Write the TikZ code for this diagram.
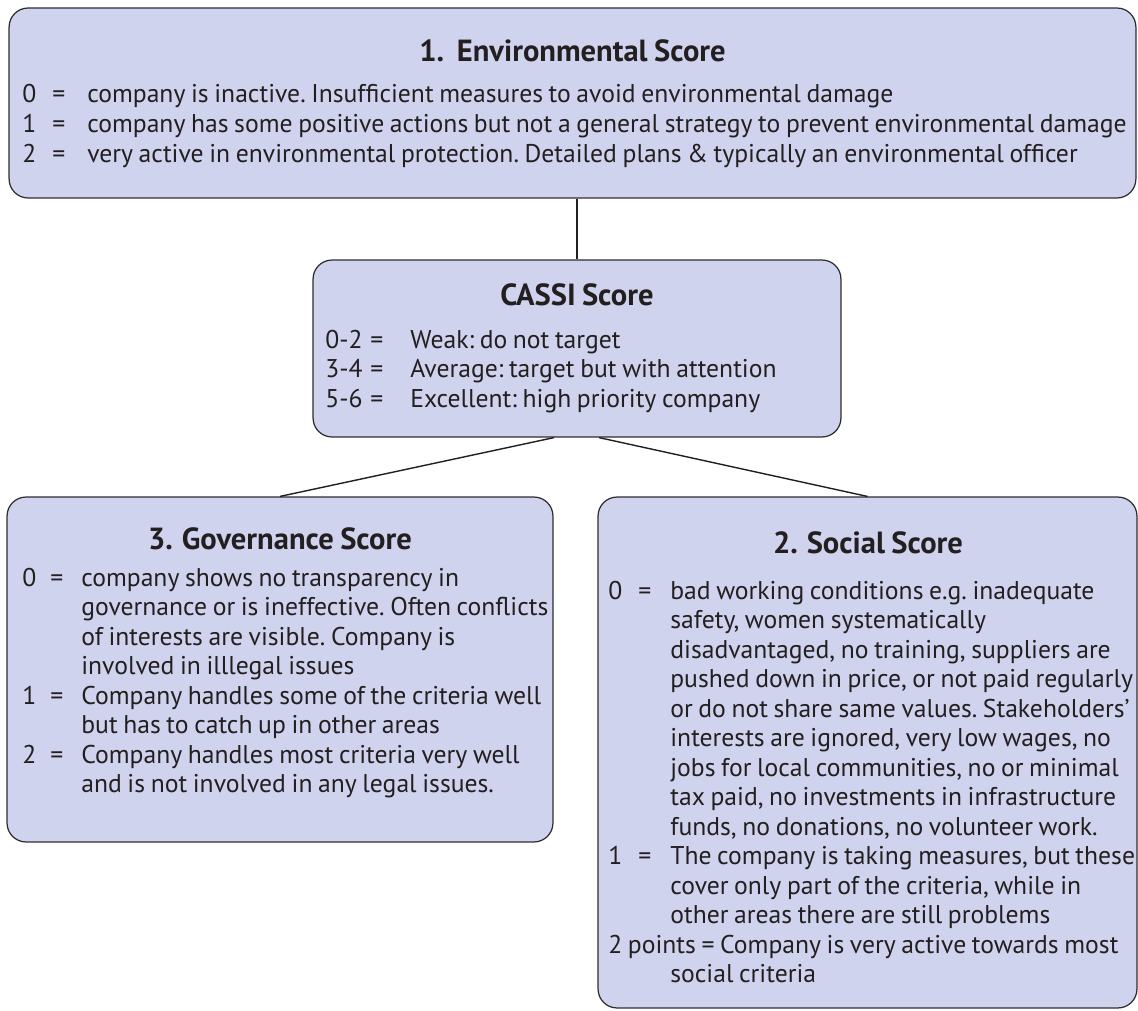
\documentclass[tikz,border=0pt]{standalone}
\usepackage{fontspec}
\setmainfont{PT Sans}[WordSpace=0.82]
\usepackage{array}
\usepackage{tikz}

\definecolor{boxfill}{RGB}{207,211,237}
\definecolor{boxline}{RGB}{45,45,48}
\definecolor{ink}{RGB}{35,31,32}

\tikzset{
    scorebox/.style={draw=boxline, fill=boxfill, line width=0.7pt, rounded corners=0.38cm, inner sep=0pt},
    boxtitle/.style={font=\fontsize{17.4}{20}\selectfont\bfseries, text=ink, inner sep=0pt, anchor=base},
    boxbody/.style={font=\fontsize{14.6}{16.8}\selectfont\frenchspacing, text=ink, inner sep=0pt, anchor=base west},
    link/.style={draw=ink, line width=0.8pt}
}

\begin{document}
\begin{tikzpicture}[x=0.02cm, y=-0.02cm]
        \useasboundingbox (0,0) rectangle (1138,1010);

        \node[scorebox, minimum width=22.54cm, minimum height=3.8cm] (env) at (572.5,103) {};
        \node[scorebox, minimum width=10.56cm, minimum height=3.54cm] (cas) at (577,348.5) {};
        \node[scorebox, minimum width=10.92cm, minimum height=6.9cm] (gov) at (280,669.5) {};
        \node[scorebox, minimum width=10.78cm, minimum height=10.22cm] (soc) at (867.5,752.5) {};

        \node[boxtitle] (envt) at (572.5,62) {1.\ \ Environmental Score};
        \node[boxtitle] (cast) at (577,305) {CASSI Score};
        \node[boxtitle] (govt) at (280,549) {3. Governance Score};
        \node[boxtitle] (soct) at (868,553) {2. Social Score};

        \node[boxbody] (envb) at (22,103) {\begin{tabular}[t]{@{}w{l}{0.6cm}@{}w{l}{0.7cm}@{}l@{}}
            0 & = & company is inactive. Insufficient measures to avoid environmental damage\\
            1 & = & company has some positive actions but not a general strategy to prevent environmental damage\\
            2 & = & very active in environmental protection. Detailed plans \& typically an environmental officer
        \end{tabular}};

        \node[boxbody] (casb) at (325,348) {\begin{tabular}[t]{@{}w{l}{0.9cm}@{}w{l}{0.8cm}@{}l@{}}
            0-2 & = & Weak: do not target\\
            3-4 & = & Average: target but with attention\\
            5-6 & = & Excellent: high priority company
        \end{tabular}};

        \node[boxbody] (govb) at (22,586) {\begin{tabular}[t]{@{}w{l}{0.56cm}@{}w{l}{0.62cm}@{}l@{}}
            0 & = & company shows no transparency in\\
              &   & governance or is ineffective. Often conflicts\\
              &   & of interests are visible. Company is\\
              &   & involved in illlegal issues\\
            1 & = & Company handles some of the criteria well\\
              &   & but has to catch up in other areas\\
            2 & = & Company handles most criteria very well\\
              &   & and is not involved in any legal issues.
        \end{tabular}};

        \node[boxbody] (socb) at (608,599) {\begin{tabular}[t]{@{}w{l}{0.6cm}@{}w{l}{0.64cm}@{}l@{}}
            0 & = & bad working conditions e.g. inadequate\\
              &   & safety, women systematically\\
              &   & disadvantaged, no training, suppliers are\\
              &   & pushed down in price, or not paid regularly\\
              &   & or do not share same values. Stakeholders’\\
              &   & interests are ignored, very low wages, no\\
              &   & jobs for local communities, no or minimal\\
              &   & tax paid, no investments in infrastructure\\
              &   & funds, no donations, no volunteer work.\\
            1 & = & The company is taking measures, but these\\
              &   & cover only part of the criteria, while in\\
              &   & other areas there are still problems\\
            \multicolumn{3}{@{}l@{}}{2 points = Company is very active towards most}\\
              &   & social criteria
        \end{tabular}};

        \draw[link] (env.south -| cas.north) -- (cas.north);
        \draw[link] ([xshift=-0.46cm]cas.south) -- (gov.north);
        \draw[link] ([xshift=0.44cm]cas.south) -- (soc.north);
    \end{tikzpicture}
\end{document}
